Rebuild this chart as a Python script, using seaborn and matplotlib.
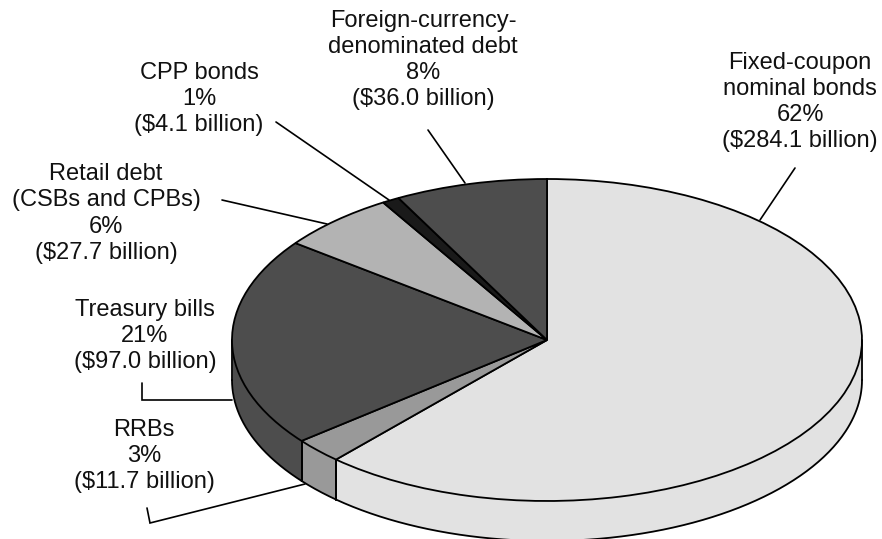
import numpy as np
import matplotlib
matplotlib.use('Agg')
import matplotlib.pyplot as plt
import seaborn as sns

# debt stock, $ billion, clockwise from 12 o'clock
segments = ['Fixed-coupon nominal bonds', 'RRBs', 'Treasury bills', 'Retail debt', 'CPP bonds', 'Foreign-currency debt']
values = [284.1, 11.7, 97.0, 27.7, 4.1, 36.0]
greys = ['#e2e2e2', '#999999', '#4d4d4d', '#b3b3b3', '#1a1a1a', '#4d4d4d']

labels = [
    'Fixed-coupon\nnominal bonds\n62%\n($284.1 billion)',
    'RRBs\n3%\n($11.7 billion)',
    'Treasury bills\n21%\n($97.0 billion)',
    'Retail debt\n(CSBs and CPBs)\n6%\n($27.7 billion)',
    'CPP bonds\n1%\n($4.1 billion)',
    'Foreign-currency-\ndenominated debt\n8%\n($36.0 billion)',
]
label_pos = [(800, 102), (144, 456), (145, 336), (106, 213.5), (199, 99), (423, 60)]
leaders = [
    [(795, 168), (760, 220)],
    [(147, 508), (150, 523), (305, 484)],
    [(142, 383), (142, 400), (232, 400)],
    [(222, 200), (327, 224)],
    [(276, 122), (389, 200)],
    [(428, 130), (465, 183)],
]

W, H = 882, 539
cx, cy, rx, ry = 547, 340, 315, 161
depth = 40 / ry

sns.set_theme(style='white')
plt.rcParams['font.family'] = ['Liberation Sans', 'DejaVu Sans']

fig = plt.figure(figsize=(W / 100, H / 100), dpi=100)
ax = fig.add_axes([0, 0, 1, 1])

# side wall: lower half of the ellipse only
edges = 90 - np.cumsum([0] + values) / sum(values) * 360
for i, color in enumerate(greys):
    hi, lo = edges[i], edges[i + 1]
    hi = min(hi, 0)
    lo = max(lo, -180)
    if hi <= lo:
        continue
    t = np.radians(np.linspace(lo, hi, 200))
    ax.fill_between(np.cos(t), np.sin(t), np.sin(t) - depth, color=color, lw=0, zorder=1)
    ax.plot(np.cos(t), np.sin(t) - depth, color='black', lw=1.3, zorder=2)
    for a in (t[0], t[-1]):
        ax.plot([np.cos(a)] * 2, [np.sin(a), np.sin(a) - depth], color='black', lw=1.3, zorder=2)

wedges, _ = ax.pie(values, colors=greys, startangle=90, counterclock=False, radius=1,
                   wedgeprops={'edgecolor': 'black', 'linewidth': 1.3, 'zorder': 3})
ax.set_aspect('auto')
ax.set_xlim(-cx / rx, (W - cx) / rx)
ax.set_ylim((cy - H) / ry, cy / ry)
ax.axis('off')

# labels and leader lines in pixel coordinates
over = fig.add_axes([0, 0, 1, 1])
over.set_xlim(0, W)
over.set_ylim(H, 0)
over.axis('off')
over.patch.set_alpha(0)
for text, (x, y), leader in zip(labels, label_pos, leaders):
    over.text(x, y, text, ha='center', va='center', fontsize=17, color='#111111', linespacing=1.24)
    over.plot(*zip(*leader), color='black', lw=1.2, solid_joinstyle='miter')

fig.savefig('out.png', dpi=100)
